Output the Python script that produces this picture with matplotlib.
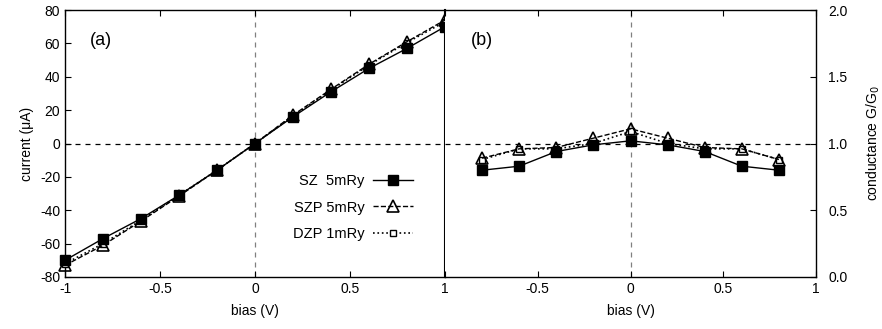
import matplotlib
matplotlib.use("Agg")
import matplotlib.pyplot as plt

plt.rcParams['font.family'] = ['Liberation Sans', 'DejaVu Sans']
plt.rcParams['font.size'] = 10
plt.rcParams['axes.unicode_minus'] = False

# ---------------------------------------------------------------------------
# Data
# ---------------------------------------------------------------------------
bias_iv = [-1.0, -0.8, -0.6, -0.4, -0.2, 0.0, 0.2, 0.4, 0.6, 0.8, 1.0]
sz_current = [-70, -57, -45, -31, -16, 0, 16, 31, 45, 57, 70]
szp_current = [-73, -61, -46.5, -31.5, -16, 0, 17, 32.5, 47.5, 61, 74]
dzp_current = [-72, -60, -46, -31, -16, 0, 16.5, 32, 47, 60.5, 73]

bias_g = [-0.8, -0.6, -0.4, -0.2, 0.0, 0.2, 0.4, 0.6, 0.8]
sz_cond = [0.80, 0.83, 0.94, 0.99, 1.02, 0.99, 0.94, 0.83, 0.80]
szp_cond = [0.89, 0.96, 0.97, 1.04, 1.11, 1.04, 0.97, 0.96, 0.88]
dzp_cond = [0.88, 0.96, 0.96, 1.00, 1.09, 1.00, 0.96, 0.96, 0.88]

labels = ["SZ  5mRy", "SZP 5mRy", "DZP 1mRy"]

W, H = 882, 329
fig = plt.figure(figsize=(W / 100, H / 100), dpi=100)
axa = fig.add_axes([65 / W, 1 - 277 / H, 380 / W, 267 / H])
axb = fig.add_axes([445 / W, 1 - 277 / H, 371 / W, 267 / H])


def draw(ax, x, sz, szp, dzp):
    ax.plot(x, dzp, ":", color="black", lw=1.2, marker="s", ms=5,
            mfc="white", mec="black", mew=1.0, clip_on=False, label=labels[2], zorder=3)
    ax.plot(x, szp, "--", color="black", lw=1.0, marker="^", ms=8,
            mfc="none", mec="black", mew=1.2, clip_on=False, label=labels[1], zorder=4)
    ax.plot(x, sz, "-", color="black", lw=1.0, marker="s", ms=6.5,
            mfc="black", mec="black", clip_on=False, label=labels[0], zorder=5)


draw(axa, bias_iv, sz_current, szp_current, dzp_current)
draw(axb, bias_g, sz_cond, szp_cond, dzp_cond)

# panel (a)
axa.set_xlim(-1, 1)
axa.set_ylim(-80, 80)
axa.set_xticks([-1, -0.5, 0, 0.5, 1])
axa.set_xticklabels(["-1", "-0.5", "0", "0.5", "1"])
axa.set_yticks(range(-80, 81, 20))
axa.axhline(0, color="black", ls=(0, (4, 4)), lw=0.9, zorder=1)
axa.axvline(0, color="grey", ls=(0, (4, 4)), lw=0.9, zorder=1)
axa.set_xlabel("bias (V)", labelpad=6)
axa.set_ylabel("current (\u03bcA)", labelpad=4)
axa.text(0.065, 0.87, "(a)", transform=axa.transAxes, fontsize=13)
axa.tick_params(direction="in", top=True, right=False, length=4)
axa.spines["right"].set_linewidth(1.5)

handles, labs = axa.get_legend_handles_labels()
order = [2, 1, 0]
axa.legend([handles[i] for i in order], [labs[i] for i in order],
           loc="upper left", bbox_to_anchor=(0.6, 0.385), frameon=False,
           markerfirst=False, handlelength=2.7, labelspacing=0.85,
           fontsize=10.5, handletextpad=0.6, borderpad=0, borderaxespad=0)

# panel (b)
axb.set_xlim(-1, 1)
axb.set_ylim(0, 2.0)
axb.set_xticks([-1, -0.5, 0, 0.5, 1])
axb.set_xticklabels(["", "-0.5", "0", "0.5", "1"])
axb.set_yticks([0, 0.5, 1.0, 1.5, 2.0])
axb.set_yticklabels(["0.0", "0.5", "1.0", "1.5", "2.0"])
axb.yaxis.tick_right()
axb.yaxis.set_label_position("right")
axb.axhline(1.0, color="black", ls=(0, (4, 4)), lw=0.9, zorder=1)
axb.axvline(0, color="grey", ls=(0, (4, 4)), lw=0.9, zorder=1)
axb.set_xlabel("bias (V)", labelpad=6)
axb.set_ylabel("conductance G/G$_0$", labelpad=12)
axb.text(0.07, 0.87, "(b)", transform=axb.transAxes, fontsize=13)
axb.tick_params(direction="in", top=True, left=False, right=True, length=4)
axb.tick_params(axis="y", pad=9)
axb.spines["left"].set_visible(False)

for ax in (axa, axb):
    for s in ax.spines.values():
        s.set_linewidth(max(s.get_linewidth(), 1.0))

fig.savefig("out.png", dpi=100)
